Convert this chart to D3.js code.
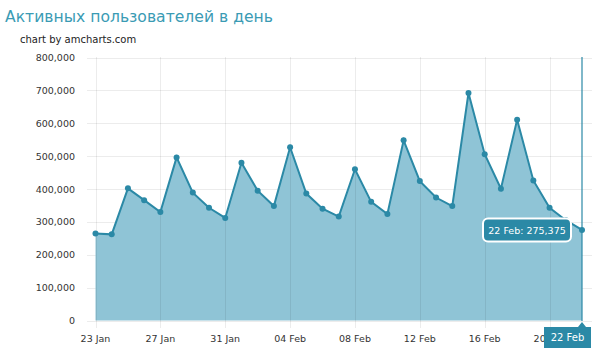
<!DOCTYPE html>
<html>
<head>
<meta charset="utf-8">
<script src="https://cdn.jsdelivr.net/npm/d3@7"></script>
<style>
  body { margin: 0; background: #fff; }
  text { font-family: "DejaVu Sans", Verdana, sans-serif; }
</style>
</head>
<body>
<script>
// daily active users, 23 Jan .. 22 Feb
var startDay = "2013-01-23";
var users = [265000, 262000, 402000, 366000, 330000, 496000, 389000, 343000, 312000,
             480000, 395000, 348000, 527000, 386000, 340000, 316000, 460000, 361000,
             324000, 548000, 424000, 374000, 348000, 692000, 506000, 401000, 611000,
             426000, 343000, 305000, 275375];
var yTicks = [0, 100000, 200000, 300000, 400000, 500000, 600000, 700000, 800000];
var xTicks = ["23 Jan", "27 Jan", "31 Jan", "04 Feb", "08 Feb", "12 Feb", "16 Feb", "20 Feb"];

var W = 600, H = 355;
var color = "#2b89a6", fill = "#8fc4d6";

var parseDay = d3.timeParse("%Y-%m-%d");
var t0 = parseDay(startDay);
var data = users.map(function(v, i) { return {date: d3.timeDay.offset(t0, i), v: v}; });
var tickDates = xTicks.map(function(s) { return d3.timeParse("%d %b %Y")(s + " 2013"); });

var x = d3.scaleTime().domain([data[0].date, data[data.length - 1].date]).range([95.5, 582]);
var y = d3.scaleLinear().domain([0, 800000]).range([320.5, 57.5]);
var fmt = d3.format(",");

var svg = d3.select("body").append("svg").attr("width", W).attr("height", H);

// title
svg.append("text").attr("x", 5).attr("y", 22)
    .attr("font-size", 15.6).attr("fill", "#3a9bb4")
    .text("Активных пользователей в день");
svg.append("text").attr("x", 20).attr("y", 43)
    .attr("font-size", 10).attr("fill", "#222")
    .text("chart by amcharts.com");

// horizontal grid
svg.append("g").selectAll("line").data(yTicks).enter().append("line")
    .attr("x1", 87).attr("x2", 592)
    .attr("y1", function(d) { return Math.round(y(d)) + 0.5; })
    .attr("y2", function(d) { return Math.round(y(d)) + 0.5; })
    .attr("stroke", "#ececec");

// y labels
svg.append("g").selectAll("text").data(yTicks).enter().append("text")
    .attr("x", 75).attr("y", function(d) { return y(d) + 3.5; })
    .attr("text-anchor", "end").attr("font-size", 9.5).attr("fill", "#333")
    .text(function(d) { return fmt(d); });

// area + line
var area = d3.area()
    .x(function(d) { return x(d.date); })
    .y0(y(0))
    .y1(function(d) { return y(d.v); });
var line = d3.line()
    .x(function(d) { return x(d.date); })
    .y(function(d) { return y(d.v); });

svg.append("path").datum(data).attr("d", area).attr("fill", fill);

// vertical grid, faint, over the fill
svg.append("g").selectAll("line").data(tickDates).enter().append("line")
    .attr("x1", function(d) { return Math.round(x(d)) + 0.5; })
    .attr("x2", function(d) { return Math.round(x(d)) + 0.5; })
    .attr("y1", 57).attr("y2", 328)
    .attr("stroke", "#000").attr("stroke-opacity", 0.075);

svg.append("path").datum(data).attr("d", line)
    .attr("fill", "none").attr("stroke", color).attr("stroke-width", 2);
svg.append("g").selectAll("circle").data(data).enter().append("circle")
    .attr("cx", function(d) { return x(d.date); })
    .attr("cy", function(d) { return y(d.v); })
    .attr("r", 3).attr("fill", color);

// x labels
svg.append("g").selectAll("text").data(tickDates).enter().append("text")
    .attr("x", function(d) { return x(d); }).attr("y", 342)
    .attr("text-anchor", "middle").attr("font-size", 9.5).attr("fill", "#333")
    .text(function(d) { return d3.timeFormat("%d %b")(d); });

// cursor at last point
var last = data[data.length - 1];
var cx = x(last.date), cy = y(last.v);
svg.append("line").attr("x1", cx).attr("x2", cx).attr("y1", 57).attr("y2", 321)
    .attr("stroke", color).attr("stroke-width", 1.2);

// balloon
var bw = 88, bh = 23;
svg.append("rect").attr("x", cx - 11 - bw).attr("y", cy - bh / 2)
    .attr("width", bw).attr("height", bh).attr("rx", 5)
    .attr("fill", color).attr("stroke", "#fff").attr("stroke-width", 2);
svg.append("text").attr("x", cx - 11 - bw / 2).attr("y", cy + 4)
    .attr("text-anchor", "middle").attr("font-size", 9.5).attr("fill", "#fff")
    .text(d3.timeFormat("%d %b")(last.date) + ": " + fmt(last.v));

// category balloon under axis
svg.append("path")
    .attr("d", "M" + (cx - 38) + ",327 H" + (cx - 4) + " L" + cx + ",322 L" + (cx + 4) + ",327 H" + (cx + 9) +
               " V348 H" + (cx - 38) + " Z")
    .attr("fill", color);
svg.append("text").attr("x", cx - 14.5).attr("y", 341)
    .attr("text-anchor", "middle").attr("font-size", 10).attr("fill", "#fff")
    .text(d3.timeFormat("%d %b")(last.date));
</script>
</body>
</html>
